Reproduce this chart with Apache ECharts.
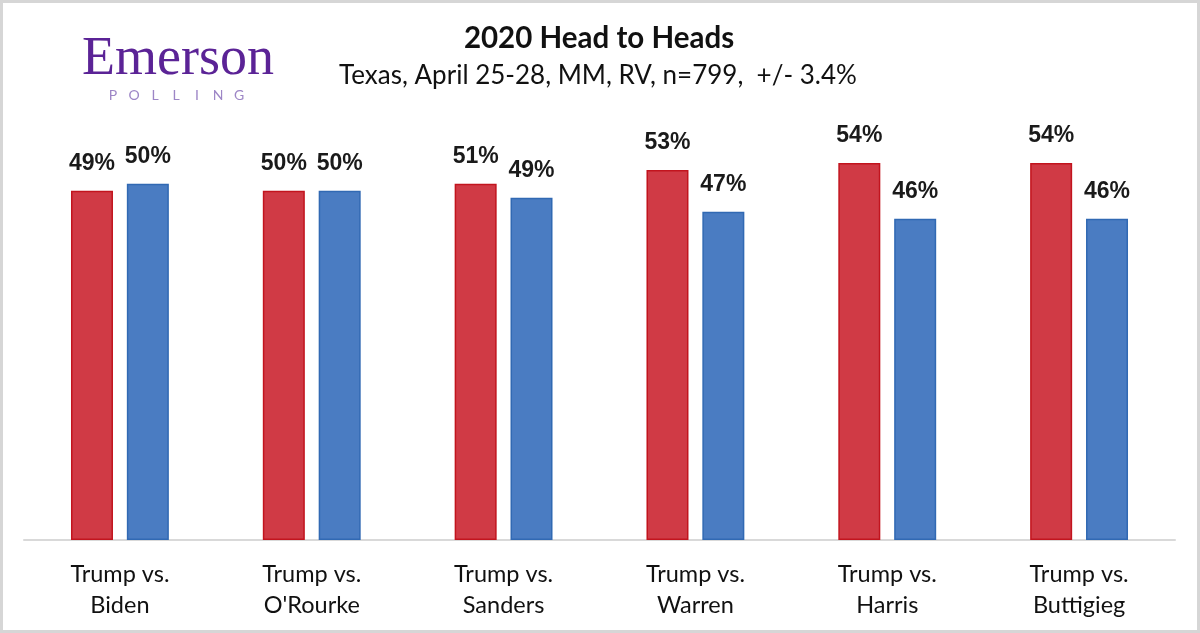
<!DOCTYPE html>
<html>
<head>
<meta charset="utf-8">
<script src="https://cdn.jsdelivr.net/npm/echarts@6/dist/echarts.min.js"></script>
<style>
html,body{margin:0;padding:0;background:#fff;}
#c{width:1200px;height:633px;}
</style>
</head>
<body>
<div id="c"></div>
<script>
const categories = ['Trump vs.\nBiden', "Trump vs.\nO'Rourke", 'Trump vs.\nSanders', 'Trump vs.\nWarren', 'Trump vs.\nHarris', 'Trump vs.\nButtigieg'];
// bar heights as drawn in the picture
const trumpValues = [50, 50, 51, 53, 54, 54];
const demValues = [51, 50, 49, 47, 46, 46];
// printed data labels
const trumpLabels = ['49%', '50%', '51%', '53%', '54%', '54%'];
const demLabels = ['50%', '50%', '49%', '47%', '46%', '46%'];
const titleText = '2020 Head to Heads';
const subtitleText = 'Texas, April 25-28, MM, RV, n=799,  +/- 3.4%';
const logoText = 'Emerson';
const logoSub = ['P', 'O', 'L', 'L', 'I', 'N', 'G'];

const chart = echarts.init(document.getElementById('c'));

const graphics = [
  {type: 'rect', shape: {x: 1.5, y: 1.5, width: 1197, height: 630}, style: {fill: 'none', stroke: '#D6D6D6', lineWidth: 3}, silent: true},
  {type: 'text', x: 599, y: 38, style: {text: titleText, font: 'bold 29.5px Lato', fill: '#111', textAlign: 'center', textVerticalAlign: 'middle'}},
  {type: 'text', x: 598, y: 76, style: {text: subtitleText, font: '26px Lato', fill: '#111', textAlign: 'center', textVerticalAlign: 'middle'}},
  {type: 'text', x: 82, y: 60, style: {text: logoText, font: '54px "Liberation Serif"', fill: '#5B2396', textAlign: 'left', textVerticalAlign: 'middle'}}
];
logoSub.forEach(function (ch, i) {
  graphics.push({type: 'text', x: 113 + i * 21, y: 95, style: {text: ch, font: '14px Lato', fill: '#9D86C6', textAlign: 'center', textVerticalAlign: 'middle'}});
});

const labelStyle = {
  show: true, position: 'top', distance: 16,
  fontFamily: '"Liberation Sans", Arial', fontSize: 23, fontWeight: 'bold', color: '#1a1a1a'
};

chart.setOption({
  animation: false,
  graphic: graphics,
  grid: {left: 24, right: 25, top: 121, bottom: 93},
  xAxis: {
    type: 'category', data: categories,
    axisTick: {show: false},
    axisLine: {lineStyle: {color: '#D9D9D9', width: 2}},
    axisLabel: {margin: 19, fontFamily: 'Lato', fontSize: 23.5, lineHeight: 31, color: '#111'}
  },
  yAxis: {type: 'value', min: 0, max: 60, show: false, splitLine: {show: false}},
  series: [
    {
      type: 'bar', data: trumpValues, barWidth: 42, barGap: '33%',
      itemStyle: {color: '#D03A45', borderColor: '#C2141E', borderWidth: 1.5},
      label: Object.assign({}, labelStyle, {formatter: function (p) { return trumpLabels[p.dataIndex]; }})
    },
    {
      type: 'bar', data: demValues, barWidth: 42,
      itemStyle: {color: '#4A7CC2', borderColor: '#3169B3', borderWidth: 1.5},
      label: Object.assign({}, labelStyle, {formatter: function (p) { return demLabels[p.dataIndex]; }})
    }
  ]
});
</script>
</body>
</html>
